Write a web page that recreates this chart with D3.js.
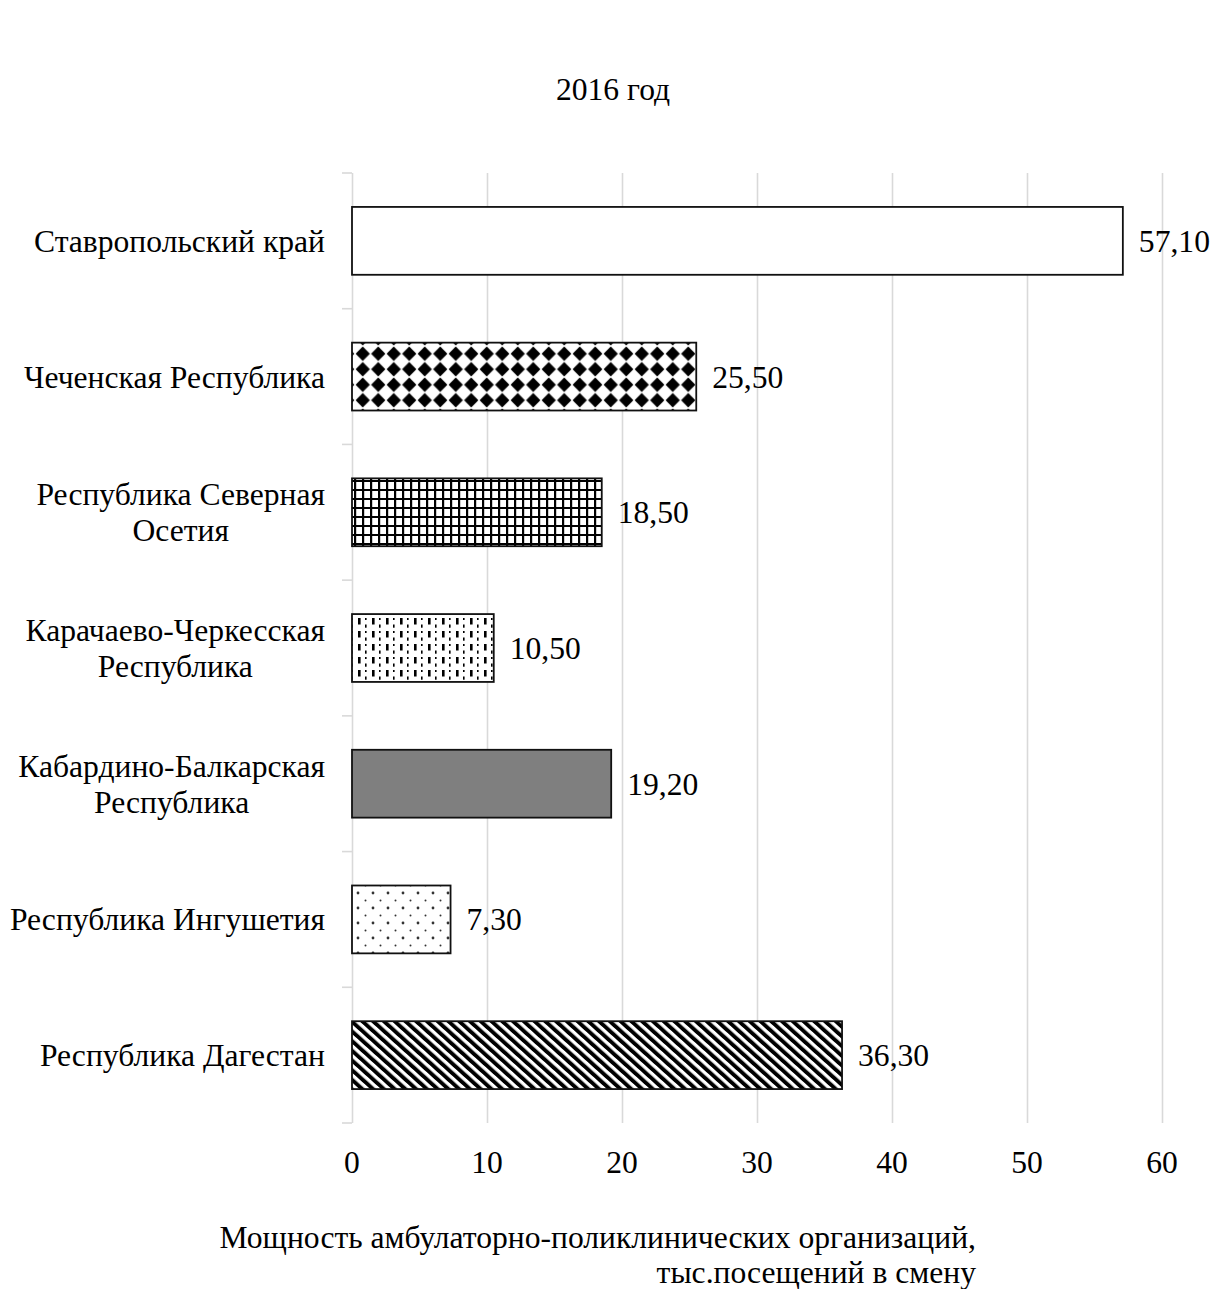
<!DOCTYPE html>
<html><head><meta charset="utf-8">
<script src="https://cdn.jsdelivr.net/npm/d3@7"></script>
<style>
html,body{margin:0;padding:0;background:#fff;}
text{font-family:"Liberation Serif","Times New Roman",serif;fill:#000;}
</style></head>
<body><svg id="c" width="1217" height="1289"></svg>
<script>
const categories = [
  ["Ставропольский край"],
  ["Чеченская Республика"],
  ["Республика Северная","Осетия"],
  ["Карачаево-Черкесская","Республика"],
  ["Кабардино-Балкарская","Республика"],
  ["Республика Ингушетия"],
  ["Республика Дагестан"]
];
const values = [57.10, 25.50, 18.50, 10.50, 19.20, 7.30, 36.30];
const valueLabels = ["57,10","25,50","18,50","10,50","19,20","7,30","36,30"];
const fills = ["white","url(#pDiamond)","url(#pGrid)","url(#pDash)","#7f7f7f","url(#pDots)","url(#pStripe)"];
const xTicks = [0,10,20,30,40,50,60];
const titleText = "2016 год";
const axisTitle = ["Мощность амбулаторно-поликлинических организаций,","тыс.посещений в смену"];

(function(){
const FS = 31.6;
const svg = d3.select("#c");
const defs = svg.append("defs");

const pd = defs.append("pattern").attr("id","pDiamond").attr("patternUnits","userSpaceOnUse")
  .attr("width",15.5).attr("height",15.5).attr("x",355).attr("y",346);
pd.append("rect").attr("width",15.5).attr("height",15.5).attr("fill","#fff");
pd.append("path").attr("d","M7.75,0.6 L14.9,7.75 L7.75,14.9 L0.6,7.75 Z").attr("fill","#000");

const pg = defs.append("pattern").attr("id","pGrid").attr("patternUnits","userSpaceOnUse")
  .attr("width",8).attr("height",9).attr("x",354).attr("y",480);
pg.append("rect").attr("width",8).attr("height",9).attr("fill","#fff");
pg.append("rect").attr("x",0).attr("y",0).attr("width",2.2).attr("height",9).attr("fill","#000");
pg.append("rect").attr("x",0).attr("y",0).attr("width",8).attr("height",2).attr("fill","#000");

const pdash = defs.append("pattern").attr("id","pDash").attr("patternUnits","userSpaceOnUse")
  .attr("width",14).attr("height",13).attr("x",356).attr("y",617);
pdash.append("rect").attr("width",14).attr("height",13).attr("fill","#fff");
pdash.append("rect").attr("x",2).attr("y",1).attr("width",2.6).attr("height",6.5).attr("fill","#000");
pdash.append("rect").attr("x",9).attr("y",7.5).attr("width",1.6).attr("height",3.2).attr("fill","#000");
pdash.append("rect").attr("x",9).attr("y",1).attr("width",1.6).attr("height",2).attr("fill","#000");

const pdot = defs.append("pattern").attr("id","pDots").attr("patternUnits","userSpaceOnUse")
  .attr("width",15).attr("height",15).attr("x",354).attr("y",889);
pdot.append("rect").attr("width",15).attr("height",15).attr("fill","#fff");
pdot.append("circle").attr("cx",4).attr("cy",4).attr("r",1.4).attr("fill","#333");
pdot.append("circle").attr("cx",11.5).attr("cy",11.5).attr("r",1.0).attr("fill","#333");

const ps = defs.append("pattern").attr("id","pStripe").attr("patternUnits","userSpaceOnUse")
  .attr("width",7.2).attr("height",20).attr("patternTransform","rotate(-48)");
ps.append("rect").attr("width",7.2).attr("height",20).attr("fill","#fff");
ps.append("rect").attr("width",3.9).attr("height",20).attr("fill","#000");

const pLeft = 352, pRight = 1162, pTop = 173, pBottom = 1123;
const x = d3.scaleLinear().domain([0,60]).range([pLeft,pRight]);
const y = d3.scaleBand().domain(d3.range(categories.length)).range([pTop,pBottom])
  .paddingInner(0.5).paddingOuter(0.25);
const step = y.step();

const gx = d3.axisBottom(x).tickValues(xTicks).tickSize(-(pBottom-pTop)).tickFormat("");
svg.append("g").attr("transform",`translate(0,${pBottom})`).call(gx)
  .call(g=>g.select(".domain").remove())
  .call(g=>g.selectAll("line").attr("stroke","#d9d9d9").attr("stroke-width",1.6));

const bounds = d3.range(categories.length+1).map(i=>pTop+i*step);
svg.append("g").selectAll("line").data(bounds).join("line")
  .attr("x1",pLeft-10).attr("x2",pLeft).attr("y1",d=>d).attr("y2",d=>d)
  .attr("stroke","#d9d9d9").attr("stroke-width",1.6);

svg.append("g").selectAll("text").data(xTicks).join("text")
  .attr("x",d=>x(d)).attr("y",1162).attr("dy","0.35em").attr("text-anchor","middle")
  .attr("font-size",FS).text(d=>d);

svg.append("g").selectAll("rect").data(values).join("rect")
  .attr("x",x(0)).attr("y",(d,i)=>y(i)).attr("width",d=>x(d)-x(0)).attr("height",y.bandwidth())
  .attr("fill",(d,i)=>fills[i]).attr("stroke","#111").attr("stroke-width",1.8);

svg.append("g").selectAll("text").data(values).join("text")
  .attr("x",d=>x(d)+16).attr("y",(d,i)=>y(i)+y.bandwidth()/2).attr("dy","0.35em")
  .attr("font-size",FS).text((d,i)=>valueLabels[i]);

const cg = svg.append("g");
categories.forEach((lines,i)=>{
  const cy = y(i)+y.bandwidth()/2;
  const t = cg.append("text").attr("font-size",FS).attr("text-anchor","middle");
  const n = lines.length;
  lines.forEach((s,k)=>{
    t.append("tspan").attr("y",cy+(k-(n-1)/2)*36).attr("dy","0.35em").text(s);
  });
  let maxW = 0;
  t.selectAll("tspan").each(function(){maxW=Math.max(maxW,this.getComputedTextLength());});
  t.selectAll("tspan").attr("x",325-maxW/2);
});

svg.append("text").attr("x",613).attr("y",89).attr("dy","0.35em").attr("text-anchor","middle")
  .attr("font-size",FS).text(titleText);

svg.append("g").selectAll("text").data(axisTitle).join("text")
  .attr("x",976).attr("y",(d,i)=>1237+i*35).attr("dy","0.35em").attr("text-anchor","end")
  .attr("font-size",FS).text(d=>d);
})();
</script></body></html>
